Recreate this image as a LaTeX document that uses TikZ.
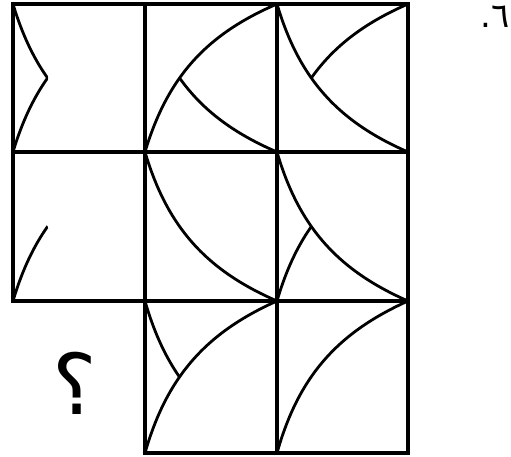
\documentclass[tikz,border=0pt]{standalone}
\usepackage{fontspec}
\newfontfamily\arabicfont[Script=Arabic]{DejaVu Sans}
\TeXXeTstate=1
\def\bb{25}
% piece macros: args TL, TR, BL, BR
\newcommand\pieceAup[4]{\begin{scope}\clip (#3) to[bend left=\bb] (#2) -- (#1) -- cycle; \draw[arcline] (#1) to[bend right=\bb] (#4);\end{scope}}
\newcommand\pieceAlo[4]{\begin{scope}\clip (#3) to[bend left=\bb] (#2) -- (#4) -- cycle; \draw[arcline] (#1) to[bend right=\bb] (#4);\end{scope}}
\newcommand\pieceBlo[4]{\begin{scope}\clip (#1) to[bend right=\bb] (#4) -- (#3) -- cycle; \draw[arcline] (#3) to[bend left=\bb] (#2);\end{scope}}
\newcommand\pieceBup[4]{\begin{scope}\clip (#1) to[bend right=\bb] (#4) -- (#2) -- cycle; \draw[arcline] (#3) to[bend left=\bb] (#2);\end{scope}}
\newcommand\fullA[4]{\draw[arcline] (#1) to[bend right=\bb] (#4);}
\newcommand\fullB[4]{\draw[arcline] (#3) to[bend left=\bb] (#2);}
\begin{document}
\begin{tikzpicture}[x=1pt,y=1pt,
  gridline/.style={line width=3.2pt, line join=miter},
  arcline/.style={line width=2.8pt, line cap=round}]
\useasboundingbox (0,0) rectangle (511,457);
% grid points
\foreach \i/\x in {0/13,1/145,2/277,3/408}{
  \foreach \j/\y in {0/453,1/305,2/156,3/4}{
    \coordinate (P\i\j) at (\x,\y);
  }
}
% row 1
\pieceAup{P00}{P10}{P01}{P11}
\pieceBlo{P00}{P10}{P01}{P11}
\fullB{P10}{P20}{P11}{P21}
\pieceAlo{P10}{P20}{P11}{P21}
\fullA{P20}{P30}{P21}{P31}
\pieceBup{P20}{P30}{P21}{P31}
% row 2
\pieceBlo{P01}{P11}{P02}{P12}
\fullA{P11}{P21}{P12}{P22}
\fullA{P21}{P31}{P22}{P32}
\pieceBlo{P21}{P31}{P22}{P32}
% row 3
\pieceAup{P12}{P22}{P13}{P23}
\fullB{P12}{P22}{P13}{P23}
\fullB{P22}{P32}{P23}{P33}
% grid
\draw[gridline] (P00) rectangle (P32);
\draw[gridline] (P10) -- (P13);
\draw[gridline] (P20) -- (P23);
\draw[gridline] (P01) -- (P31);
\draw[gridline] (P12) -- (P13) -- (P33) -- (P32);
% labels
\node[inner sep=0pt] (q) at (75,74) {\arabicfont\fontsize{84}{94}\selectfont\beginR ؟\endR};
\node[inner sep=0pt] (num) at (495,440) {\arabicfont\fontsize{34}{40}\selectfont\beginR ٦.\endR};
\end{tikzpicture}
\end{document}
